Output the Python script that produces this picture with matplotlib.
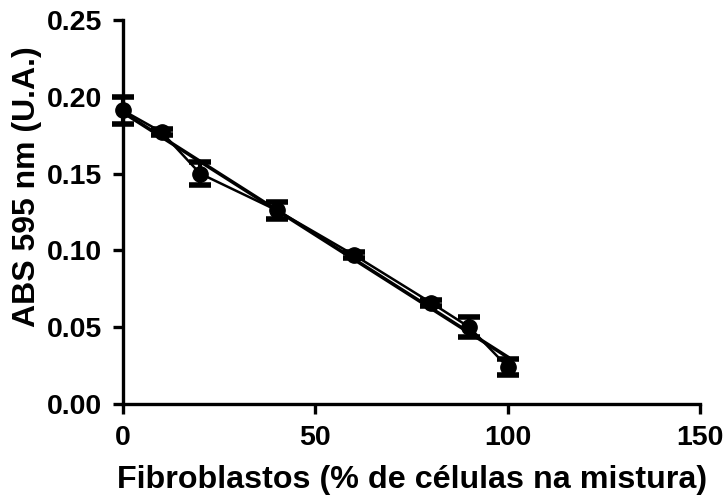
import numpy as np
import matplotlib
matplotlib.use("Agg")
import matplotlib.pyplot as plt

# fibroblast fraction in the mixture (%) and absorbance at 595 nm
fibro_pct = [0, 10, 20, 40, 60, 80, 90, 100]
abs_595 = [0.191, 0.177, 0.150, 0.126, 0.097, 0.066, 0.050, 0.024]
abs_err = [0.0085, 0.002, 0.0075, 0.0055, 0.002, 0.002, 0.0065, 0.005]

x_ticks = [0, 50, 100, 150]
y_ticks = [0.00, 0.05, 0.10, 0.15, 0.20, 0.25]

plt.rcParams['font.family'] = ['Liberation Sans', 'DejaVu Sans']
plt.rcParams['font.weight'] = 'bold'

fig = plt.figure(figsize=(7.24, 4.96), dpi=100)
ax = fig.add_axes([0.170, 0.1855, 0.797, 0.7745])

x = np.asarray(fibro_pct, dtype=float)
y = np.asarray(abs_595, dtype=float)

# linear regression over the mean values
slope, intercept = np.polyfit(x, y, 1)
xfit = np.array([x.min(), x.max()])
ax.plot(xfit, slope * xfit + intercept, color='black', lw=2.6, zorder=2)

ax.errorbar(x, y, yerr=abs_err, fmt='-o', color='black', lw=1.8,
            ms=11, capsize=8, capthick=4, elinewidth=3, zorder=3,
            clip_on=False)

ax.set_xlim(0, 150)
ax.set_ylim(0, 0.25)
ax.set_xticks(x_ticks)
ax.set_yticks(y_ticks)
ax.set_xticklabels([str(t) for t in x_ticks])
ax.set_yticklabels([f"{t:.2f}" for t in y_ticks])

for side in ['top', 'right']:
    ax.spines[side].set_visible(False)
for side in ['left', 'bottom']:
    ax.spines[side].set_linewidth(2.4)

ax.tick_params(axis='both', direction='out', length=7, width=2.4,
               labelsize=20.5)
ax.tick_params(axis='x', pad=8)
ax.tick_params(axis='y', pad=8)
for lab in ax.get_xticklabels() + ax.get_yticklabels():
    lab.set_fontweight('bold')

ax.set_xlabel('Fibroblastos (% de células na mistura)', fontsize=23.2,
              fontweight='bold', labelpad=10)
ax.set_ylabel('ABS 595 nm (U.A.)', fontsize=23, fontweight='bold')
ax.yaxis.set_label_coords(-0.140, 0.565)

fig.savefig('out.png', dpi=100)
